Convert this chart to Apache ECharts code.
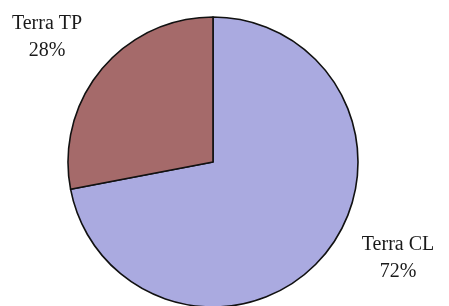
<!DOCTYPE html>
<html><head><meta charset="utf-8">
<script src="https://cdn.jsdelivr.net/npm/echarts@6/dist/echarts.min.js"></script>
<style>html,body{margin:0;padding:0;background:#fff}#c{width:449px;height:306px}</style>
</head><body><div id="c"></div>
<script>
const categories = ["Terra CL", "Terra TP"];
const values = [72, 28];
const colors = ["#aaaae0", "#a56a6a"];
const labelAnchors = [[398, 258], [47, 37]];

const chart = echarts.init(document.getElementById('c'), null, {renderer: 'canvas'});
chart.setOption({
  backgroundColor: '#ffffff',
  animation: false,
  series: [{
    type: 'pie',
    center: [213, 162],
    radius: 145,
    startAngle: 90,
    clockwise: true,
    data: categories.map((n, i) => ({name: n, value: values[i], itemStyle: {color: colors[i]}})),
    itemStyle: {borderColor: '#111', borderWidth: 1.6},
    label: {
      show: true,
      position: 'outside',
      formatter: '{b}\n{d}%',
      fontFamily: 'Liberation Serif',
      fontSize: 20,
      lineHeight: 27,
      color: '#1a1a1a',
      align: 'center',
      overflow: 'none',
      width: 120
    },
    labelLine: {show: false},
    labelLayout: function (p) {
      const a = labelAnchors[p.dataIndex];
      return {x: a[0], y: a[1], align: 'center', verticalAlign: 'middle'};
    },
    emphasis: {disabled: true}
  }]
});
</script></body></html>
